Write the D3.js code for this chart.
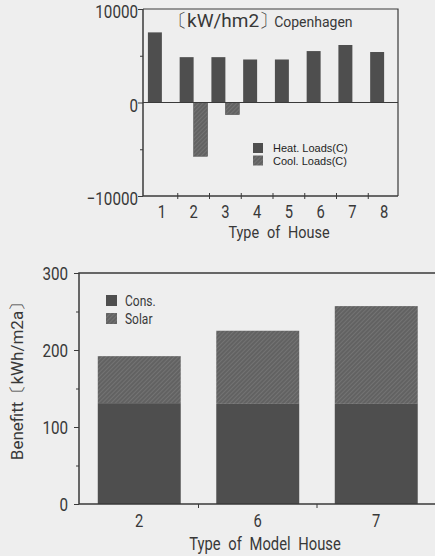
<!DOCTYPE html>
<html>
<head>
<meta charset="utf-8">
<script src="https://cdn.jsdelivr.net/npm/d3@7"></script>
<style>
  body { margin: 0; background: #eeeeee; }
  svg { display: block; }
  text { font-family: Roboto, "Liberation Sans", sans-serif; font-weight: 400; fill: #383838; }
</style>
</head>
<body>
<figure style="margin:0"></figure>
<script>
// top chart: heating / cooling loads, Copenhagen
const houseTypes = ["1", "2", "3", "4", "5", "6", "7", "8"];
const heatLoads = [7500, 4850, 4850, 4600, 4600, 5500, 6150, 5400];
const coolLoads = [0, -5750, -1300, 0, 0, 0, 0, 0];
const loadTicks = [-10000, 0, 10000];
const loadMinorTicks = [-5000, 5000];

// bottom chart: benefit per model house
const modelHouses = ["2", "6", "7"];
const consBenefit = [131, 130, 130];
const solarBenefit = [61, 95, 127];
const benefitTicks = [0, 100, 200, 300];
const benefitMinorTicks = [50, 150, 250];

const width = 435, height = 556;

const svg = d3.select("figure").append("svg")
  .attr("width", width)
  .attr("height", height);

svg.append("rect").attr("width", width).attr("height", height).attr("fill", "#eeeeee");

const defs = svg.append("defs");
const hatch = defs.append("pattern")
  .attr("id", "hatch")
  .attr("patternUnits", "userSpaceOnUse")
  .attr("width", 3).attr("height", 3)
  .attr("patternTransform", "rotate(45)");
hatch.append("rect").attr("width", 3).attr("height", 3).attr("fill", "#626262");
hatch.append("line").attr("x1", 0).attr("y1", 0).attr("x2", 0).attr("y2", 3)
  .attr("stroke", "#828282").attr("stroke-width", 1.1);

const dark = "#4e4e4e";
const axisColor = "#3a3a3a";

function styleAxis(g) {
  g.select(".domain").remove();
  g.selectAll("line").attr("stroke", axisColor);
}

// the scanned figure uses a condensed face: squeeze text horizontally around its anchor
function squeeze(sel, k) {
  sel.each(function() {
    const t = d3.select(this);
    const x = +t.attr("x") || 0;
    const prev = t.attr("transform") || "";
    t.attr("x", x / k).attr("transform", `${prev} scale(${k},1)`);
  });
}

// ---------- top chart ----------
const box1 = { left: 143, right: 398, top: 9, bottom: 196 };

const y1 = d3.scaleLinear().domain([-10000, 10000]).range([box1.bottom, box1.top]);
const x1 = d3.scaleBand().domain(houseTypes).range([146, 400]).paddingInner(0.12).paddingOuter(0.06);
const sub = d3.scaleBand().domain(["heat", "cool"]).range([0, x1.bandwidth()]);

const loads = houseTypes.map((d, i) => ({ type: d, heat: heatLoads[i], cool: coolLoads[i] }));

const g1 = svg.append("g");

g1.selectAll(".heat")
  .data(loads)
  .enter()
  .append("rect")
  .attr("x", d => x1(d.type) + sub("heat"))
  .attr("width", sub.bandwidth())
  .attr("y", d => y1(d.heat))
  .attr("height", d => y1(0) - y1(d.heat))
  .attr("fill", dark);

g1.selectAll(".cool")
  .data(loads.filter(d => d.cool !== 0))
  .enter()
  .append("rect")
  .attr("x", d => x1(d.type) + sub("cool"))
  .attr("width", sub.bandwidth())
  .attr("y", y1(0))
  .attr("height", d => y1(d.cool) - y1(0))
  .attr("fill", "url(#hatch)")
  .attr("stroke", "#555")
  .attr("stroke-width", 0.6);

// frame
g1.append("path")
  .attr("d", `M${box1.left},${box1.top}H${box1.right}V${box1.bottom}`)
  .attr("fill", "none").attr("stroke", axisColor).attr("stroke-width", 1.2);
g1.append("line")
  .attr("x1", box1.left).attr("x2", box1.right)
  .attr("y1", y1(0)).attr("y2", y1(0))
  .attr("stroke", axisColor).attr("stroke-width", 1.2);
g1.append("line")
  .attr("x1", box1.left).attr("x2", box1.right)
  .attr("y1", box1.bottom).attr("y2", box1.bottom)
  .attr("stroke", axisColor).attr("stroke-width", 1.5);
g1.append("line")
  .attr("x1", box1.left).attr("x2", box1.left)
  .attr("y1", box1.top).attr("y2", box1.bottom)
  .attr("stroke", axisColor).attr("stroke-width", 1.5);

// y axis
g1.append("g")
  .attr("transform", `translate(${box1.left},0)`)
  .call(d3.axisLeft(y1).tickValues(loadTicks).tickSize(5).tickPadding(0)
    .tickFormat(d => d < 0 ? "\u2212" + Math.abs(d) : d))
  .call(styleAxis)
  .call(g => g.selectAll("text").attr("fill", null).attr("font-size", 19).attr("dy", "0.45em").call(squeeze, 0.8));
g1.append("g")
  .attr("transform", `translate(${box1.left},0)`)
  .call(d3.axisLeft(y1).tickValues(loadMinorTicks).tickSize(3).tickFormat(""))
  .call(styleAxis);

// x axis labels
g1.append("g")
  .attr("transform", `translate(0,${box1.bottom})`)
  .call(d3.axisBottom(x1).tickSize(0).tickPadding(9))
  .call(styleAxis)
  .call(g => g.selectAll("text").attr("fill", null).attr("font-size", 18).call(squeeze, 0.82));

// separator ticks between groups
g1.selectAll(".sep")
  .data(houseTypes.slice(1))
  .enter()
  .append("line")
  .attr("x1", d => x1(d) - x1.step() * x1.paddingInner() / 2)
  .attr("x2", d => x1(d) - x1.step() * x1.paddingInner() / 2)
  .attr("y1", box1.bottom - 3).attr("y2", box1.bottom + 3)
  .attr("stroke", axisColor);

g1.append("text")
  .attr("x", 279).attr("y", 238.5)
  .attr("text-anchor", "middle")
  .attr("font-size", 17)
  .attr("word-spacing", 5)
  .text("Type of House")
  .call(squeeze, 0.85);

const title = g1.append("text")
  .attr("x", 168).attr("y", 27);
title.append("tspan").attr("font-size", 19).text("\u3014kW/hm2\u3015");
title.append("tspan").attr("font-size", 14).attr("dx", -4).text("Copenhagen");

const legend1 = [
  { label: "Heat. Loads(C)", fill: dark },
  { label: "Cool. Loads(C)", fill: "url(#hatch)" }
];
const lg1 = g1.selectAll(".lg1")
  .data(legend1)
  .enter()
  .append("g")
  .attr("transform", (d, i) => `translate(253,${143 + i * 12.5})`);
lg1.append("rect").attr("width", 10).attr("height", 10).attr("fill", d => d.fill);
lg1.append("text")
  .attr("x", 20).attr("y", 9)
  .style("font-family", "'Liberation Sans', Arial, sans-serif")
  .style("font-weight", 400)
  .style("fill", "#1e1e1e")
  .attr("font-size", 11)
  .text(d => d.label);

// ---------- bottom chart ----------
const box2 = { left: 79, right: 435, top: 273, bottom: 504 };

const y2 = d3.scaleLinear().domain([0, 300]).range([box2.bottom, box2.top]);
const x2 = d3.scaleBand().domain(modelHouses).range([80, 435.5]).paddingInner(0.3).paddingOuter(0.15);

const benefit = modelHouses.map((d, i) => ({ house: d, cons: consBenefit[i], solar: solarBenefit[i] }));
const stacked = d3.stack().keys(["cons", "solar"])(benefit);
const fills = { cons: dark, solar: "url(#hatch)" };

const g2 = svg.append("g");

g2.selectAll(".layer")
  .data(stacked)
  .enter()
  .append("g")
  .attr("fill", d => fills[d.key])
  .selectAll("rect")
  .data(d => d)
  .enter()
  .append("rect")
  .attr("x", d => x2(d.data.house))
  .attr("width", x2.bandwidth())
  .attr("y", d => y2(d[1]))
  .attr("height", d => y2(d[0]) - y2(d[1]));

g2.append("path")
  .attr("d", `M${box2.right},${box2.top}H${box2.left}V${box2.bottom}H${box2.right}`)
  .attr("fill", "none").attr("stroke", axisColor).attr("stroke-width", 1.5);

g2.append("g")
  .attr("transform", `translate(${box2.left},0)`)
  .call(d3.axisLeft(y2).tickValues(benefitTicks).tickSize(5).tickPadding(6))
  .call(styleAxis)
  .call(g => g.selectAll("text").attr("fill", null).attr("font-size", 19).attr("dy", "0.36em").call(squeeze, 0.8));
g2.append("g")
  .attr("transform", `translate(${box2.left},0)`)
  .call(d3.axisLeft(y2).tickValues(benefitMinorTicks).tickSize(3).tickFormat(""))
  .call(styleAxis);

g2.append("g")
  .attr("transform", `translate(0,${box2.bottom})`)
  .call(d3.axisBottom(x2).tickSize(0).tickPadding(10.5))
  .call(styleAxis)
  .call(g => g.selectAll("text").attr("fill", null).attr("font-size", 18).call(squeeze, 0.82));

g2.selectAll(".sep")
  .data(modelHouses.slice(1))
  .enter()
  .append("line")
  .attr("x1", d => x2(d) - x2.step() * x2.paddingInner() / 2)
  .attr("x2", d => x2(d) - x2.step() * x2.paddingInner() / 2)
  .attr("y1", box2.bottom).attr("y2", box2.bottom + 4)
  .attr("stroke", axisColor);

g2.append("text")
  .attr("x", 265).attr("y", 550)
  .attr("text-anchor", "middle")
  .attr("font-size", 18)
  .attr("word-spacing", 5)
  .text("Type of Model House")
  .call(squeeze, 0.82);

g2.append("text")
  .attr("transform", "translate(23,377) rotate(-90)")
  .attr("text-anchor", "middle")
  .attr("font-size", 17)
  .text("Benefitt\u3014kWh/m2a\u3015");

const legend2 = [
  { label: "Cons.", fill: dark },
  { label: "Solar", fill: "url(#hatch)" }
];
const lg2 = g2.selectAll(".lg2")
  .data(legend2)
  .enter()
  .append("g")
  .attr("transform", (d, i) => `translate(106,${295 + i * 18})`);
lg2.append("rect").attr("width", 11).attr("height", 11).attr("fill", d => d.fill);
lg2.append("text")
  .attr("x", 19).attr("y", 11)
  .attr("font-size", 15)
  .text(d => d.label)
  .call(squeeze, 0.8);
</script>
</body>
</html>
